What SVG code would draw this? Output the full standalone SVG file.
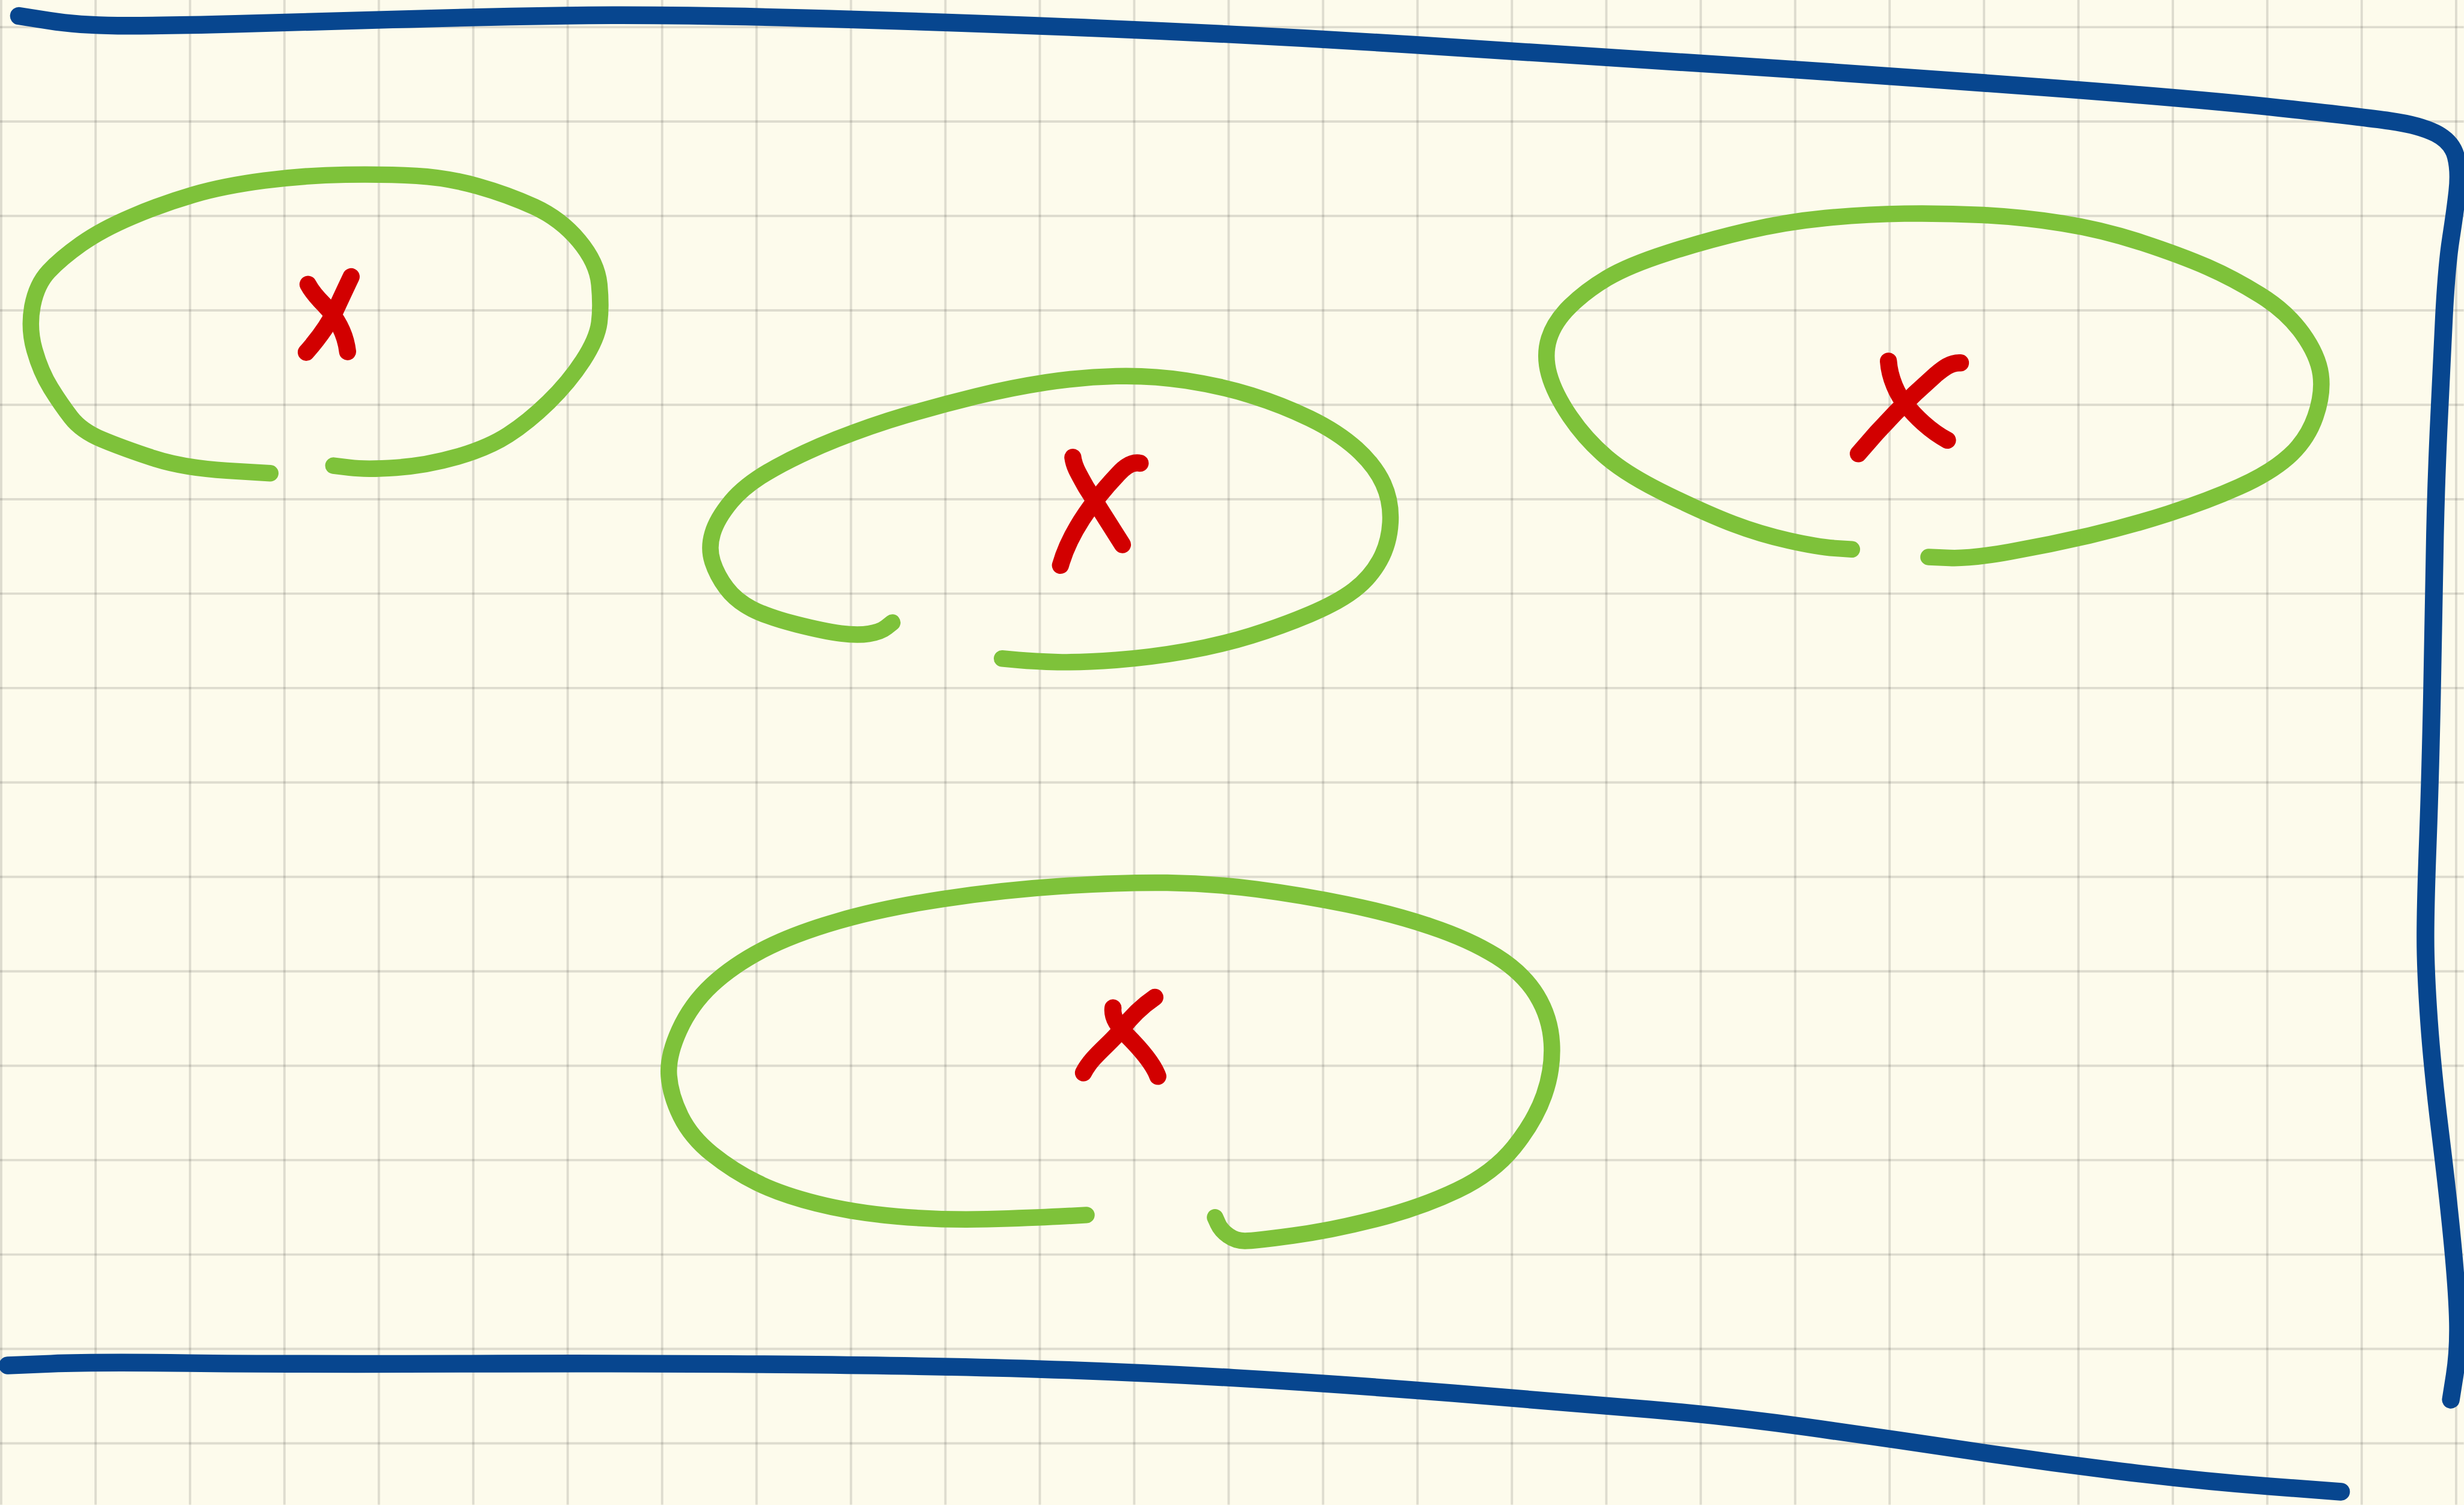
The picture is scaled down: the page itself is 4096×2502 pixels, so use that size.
<svg xmlns="http://www.w3.org/2000/svg" width="4096" height="2502" viewBox="0 0 4096 2502">
<style>
.grid{fill:none;stroke:#000;stroke-opacity:0.12;stroke-width:4}
.blue{fill:none;stroke:#07468F;stroke-width:30;stroke-linecap:round;stroke-linejoin:round}
.green{fill:none;stroke:#7EC23A;stroke-width:28;stroke-linecap:round;stroke-linejoin:round}
.red{fill:none;stroke:#D20000;stroke-width:29;stroke-linecap:round;stroke-linejoin:round}
</style>
<rect x="0" y="0" width="4096" height="2502" fill="#FDFBEC"/>
<g transform="scale(0.981)">
<g id="grid">
<path class="grid" d="M2,0V2550M162,0V2550M322,0V2550M482,0V2550M642,0V2550M802,0V2550M962,0V2550M1122,0V2550M1282,0V2550M1442,0V2550M1602,0V2550M1762,0V2550M1922,0V2550M2082,0V2550M2242,0V2550M2402,0V2550M2562,0V2550M2722,0V2550M2882,0V2550M3042,0V2550M3202,0V2550M3362,0V2550M3522,0V2550M3682,0V2550M3842,0V2550M4002,0V2550M4162,0V2550"/>
<path class="grid" d="M0,46H4175M0,206H4175M0,366H4175M0,526H4175M0,686H4175M0,846H4175M0,1006H4175M0,1166H4175M0,1326H4175M0,1486H4175M0,1646H4175M0,1806H4175M0,1966H4175M0,2126H4175M0,2286H4175M0,2446H4175"/>
</g>
<g id="frame">
<path class="blue" d="M32,27 L82.5,35 Q133,43 199.5,43.5 Q266,44 399,40.5 Q532,37 665.5,33 Q799,29 958.5,26.5 Q1118,24 1358,30.5 Q1598,37 1864,48 Q2130,59 2396.5,76 Q2663,93 2929,110.5 Q3195,128 3461.5,148 Q3728,168 3864,183 Q4000,198 4050,205 Q4100,212 4127.5,226 Q4155,240 4161.5,265 Q4168,290 4164,325 Q4160,360 4153,405 Q4146,450 4141.5,535.5 Q4137,621 4132,733 Q4127,845 4125.5,943.5 Q4124,1042 4121,1182 Q4118,1322 4114,1427.5 Q4110,1533 4110,1589 Q4110,1645 4116,1729.5 Q4122,1814 4135,1919 Q4148,2024 4156,2108 Q4164,2192 4165,2241 Q4166,2290 4159.5,2331 L4153,2372"/>
<path class="blue" d="M13,2314 L86.5,2311 Q160,2308 319.5,2310 Q479,2312 798.5,2311 Q1118,2310 1357.5,2312.5 Q1597,2315 1757,2320 Q1917,2325 2090,2335 Q2263,2345 2462.5,2361 Q2662,2377 2795.5,2388.5 Q2929,2400 3062,2418.5 Q3195,2437 3328,2457 Q3461,2477 3594,2493.5 Q3727,2510 3847,2519 L3967,2528"/>
</g>
<g id="loop1">
<path class="green" d="M458,802 L384,797.5 Q310,793 258.5,776 Q207,759 172.5,744.5 Q138,730 120.5,707.5 Q103,685 86,657.5 Q69,630 58.5,593 Q48,556 55,519 Q62,482 82.5,460 Q103,438 137.5,413.5 Q172,389 224,367 Q276,345 327.5,330 Q379,315 448,306 Q517,297 585.5,296 Q654,295 706,298 Q758,301 809.5,315.5 Q861,330 905.5,350.5 Q950,371 981,408 Q1012,445 1015.5,482 Q1019,519 1015.5,546.5 Q1012,574 988,611 Q964,648 929.5,681.5 Q895,715 861,737 Q827,759 775,774 Q723,789 671.5,792.5 Q620,796 592.5,792.5 L565,789"/>
<path class="red" d="M522,482 Q530,497 548,515 Q584,552 589,596"/>
<path class="red" d="M595,469 Q585,490 572,518 Q556,555 519,597"/>
</g>
<g id="loop2">
<path class="green" d="M1512,1055 L1502,1063 Q1492,1071 1472.5,1074 Q1453,1077 1425,1073.5 Q1397,1070 1349.5,1058 Q1302,1046 1274.5,1032 Q1247,1018 1231,996.5 Q1215,975 1207.5,952 Q1200,929 1207.5,904 Q1215,879 1239,850 Q1263,821 1310.5,794.5 Q1358,768 1417,744.5 Q1476,721 1535.5,703.5 Q1595,686 1654.5,671.5 Q1714,657 1773,648 Q1832,639 1891.5,637.5 Q1951,636 2010,645 Q2069,654 2120.5,670 Q2172,686 2219.5,709 Q2267,732 2298.5,760.5 Q2330,789 2344,819.5 Q2358,850 2356,885.5 Q2354,921 2338,950 Q2322,979 2294.5,1000 Q2267,1021 2219.5,1041 Q2172,1061 2120.5,1077 Q2069,1093 2010,1103.5 Q1951,1114 1891.5,1118.5 Q1832,1123 1792.5,1122 Q1753,1121 1725.5,1118.5 L1698,1116"/>
<path class="red" d="M1818,775 C1820,790 1826,800 1840,825 L1902,923"/>
<path class="red" d="M1932,785 C1918,782 1905,792 1895,803 C1860,840 1815,895 1797,958"/>
</g>
<g id="loop3">
<path class="green" d="M3138,931 L3109,929 Q3080,927 3031,916 Q2982,905 2937.5,888 Q2893,871 2826,838.5 Q2759,806 2723,775.5 Q2687,745 2660.5,706 Q2634,667 2625,634.5 Q2616,602 2625,573.5 Q2634,545 2660.5,519 Q2687,493 2723,471.5 Q2759,450 2826,428.5 Q2893,407 2959.5,391.5 Q3026,376 3093,369.5 Q3160,363 3227,362 Q3294,361 3361,364.5 Q3428,368 3495,378.5 Q3562,389 3629,411 Q3696,433 3740.5,452.5 Q3785,472 3830,500 Q3875,528 3901.5,565 Q3928,602 3932.5,634.5 Q3937,667 3923.5,706 Q3910,745 3879,773 Q3848,801 3794.5,825 Q3741,849 3674,870.5 Q3607,892 3540,907.5 Q3473,923 3406,935 Q3339,947 3303.5,945.5 L3268,944"/>
<path class="red" d="M3200,612 C3202,640 3215,670 3230,686 C3245,705 3270,730 3300,746"/>
<path class="red" d="M3322,615 C3305,614 3292,625 3280,635 C3240,670 3190,720 3149,769"/>
</g>
<g id="loop4">
<path class="green" d="M1841,2059 L1795,2061.5 Q1749,2064 1673,2066 Q1597,2068 1521,2061.5 Q1445,2055 1384,2039.5 Q1323,2024 1282.5,2004 Q1242,1984 1206.5,1955.5 Q1171,1927 1153.5,1891.5 Q1136,1856 1133.5,1823 Q1131,1790 1151,1746 Q1171,1702 1206.5,1669 Q1242,1636 1293,1609.5 Q1344,1583 1420,1561 Q1496,1539 1597.5,1523.5 Q1699,1508 1800.5,1501.5 Q1902,1495 1978,1496 Q2054,1497 2130,1507 Q2206,1517 2282,1532.5 Q2358,1548 2424,1570 Q2490,1592 2535.5,1620.5 Q2581,1649 2604,1686.5 Q2627,1724 2629.5,1768 Q2632,1812 2616.5,1856 Q2601,1900 2565.5,1944 Q2530,1988 2469.5,2017 Q2409,2046 2333,2065.5 Q2257,2085 2191,2094 Q2125,2103 2109.5,2103 Q2094,2103 2081.5,2094 Q2069,2085 2064,2074 L2059,2063"/>
<path class="red" d="M1886,1708 C1884,1725 1895,1740 1910,1755 C1935,1780 1955,1805 1962,1824"/>
<path class="red" d="M1957,1690 C1935,1705 1915,1725 1900,1745 C1880,1770 1850,1790 1836,1818"/>
</g>
</g>
</svg>
